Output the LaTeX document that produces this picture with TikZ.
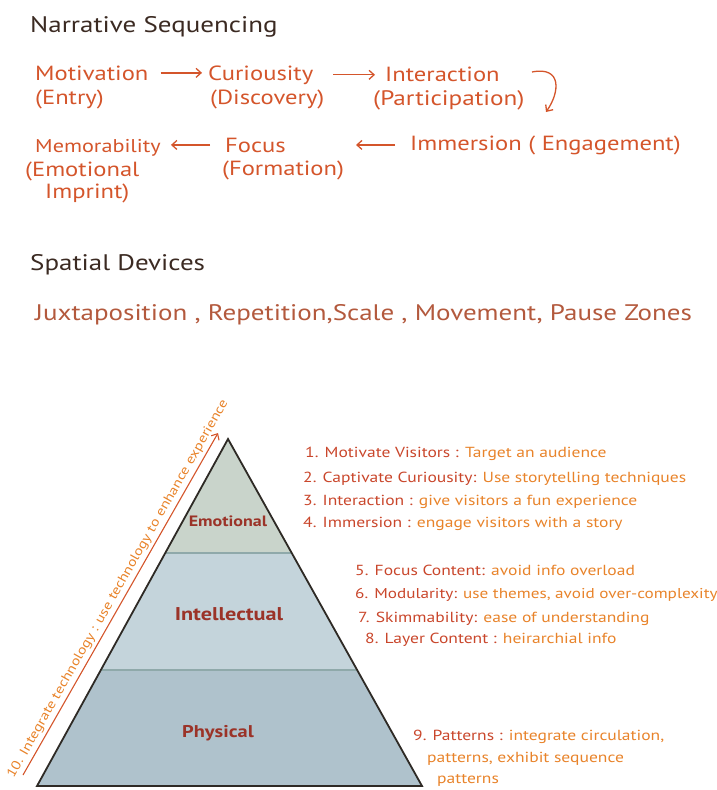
\documentclass[tikz,border=0pt]{standalone}
\usepackage{fontspec}
\setmainfont{PT Sans}[FakeStretch=1.2]
\usetikzlibrary{arrows.meta}
\definecolor{seq}{HTML}{D4552B}
\definecolor{headc}{HTML}{3B2A22}
\definecolor{devc}{HTML}{B3593D}
\definecolor{labc}{HTML}{C9462B}
\definecolor{descc}{HTML}{E8832A}
\definecolor{tierc}{HTML}{9B3328}
\definecolor{emofill}{HTML}{C9D4CB}
\definecolor{intfill}{HTML}{C4D4DB}
\definecolor{phyfill}{HTML}{AFC2CC}
\definecolor{bandline}{HTML}{8FA9AA}
\definecolor{edgec}{HTML}{2E2A25}
\tikzset{
  txt/.style={inner sep=0pt, anchor=base west},
  heading/.style={txt, text=headc, font=\fontsize{22.5}{27}\selectfont},
  seqtext/.style={txt, text=seq, font=\fontsize{20.5}{24}\selectfont},
  devtext/.style={txt, text=devc, font=\fontsize{22.5}{26}\selectfont},
  listtext/.style={txt, font=\fontsize{14.6}{17}\selectfont},
  tier/.style={inner sep=0pt, text=tierc},
  arr/.style={draw=seq, line width=1.3pt, -{Straight Barb[length=5pt,width=9pt]}},
}
\newcommand{\lab}[1]{\textcolor{labc}{#1}}
\newcommand{\dsc}[1]{\textcolor{descc}{#1}}
\begin{document}
\begin{tikzpicture}[x=1pt,y=-1pt]
\useasboundingbox (0,0) rectangle (716,790);

% ---- Narrative sequencing ----
\node[heading] (nshead) at (30,32) {Narrative Sequencing};

\node[seqtext] (mot) at (35,80) {Motivation};
\node[seqtext] (motb) at (35,104) {(Entry)};
\node[seqtext] (cur) at (208,80) {Curiousity};
\node[seqtext] (curb) at (210,104) {(Discovery)};
\node[seqtext] (int) at (385,81) {Interaction};
\node[seqtext, font=\fontsize{21}{24}\selectfont] (intb) at (373,105) {(Participation)};

\node[seqtext, font=\fontsize{18.5}{24}\selectfont] (mem) at (35,152) {Memorability};
\node[seqtext] (memb) at (25,176) {(Emotional};
\node[seqtext] (memc) at (45,198) {Imprint)};
\node[seqtext] (foc) at (225,152) {Focus};
\node[seqtext] (focb) at (222,175) {(Formation)};
\node[seqtext] (imm) at (410,150) {Immersion ( Engagement)};

% flow arrows between the stages
\draw[arr, shorten <=12pt, shorten >=6pt] (mot.east) -- (mot.east -| cur.west);
\draw[arr, shorten <=20pt, shorten >=10pt] (cur.east) -- (cur.east -| int.west);
\coordinate (turnA) at (532,72);
\coordinate (turnB) at (546,112);
\draw[arr] (turnA) .. controls (562,66) and (560,92) .. (turnB);
\draw[arr, shorten <=15pt, shorten >=70pt] (imm.west) -- (imm.west -| foc.east);
\draw[arr, shorten <=15pt, shorten >=10pt] (foc.west) -- (foc.west -| mem.east);

% ---- Spatial devices ----
\node[heading] (sdhead) at (30,270) {Spatial Devices};
\node[devtext] (devs) at (35,320) {Juxtaposition , Repetition,Scale , Movement, Pause Zones};

% ---- Pyramid ----
\coordinate (apex) at (228,439);
\coordinate (bl) at (37,786);
\coordinate (br) at (422,786);
\coordinate (l1) at (165.3,553);
\coordinate (r1) at (291.7,553);
\coordinate (l2) at (100.9,670);
\coordinate (r2) at (357.1,670);
\fill[emofill] (apex) -- (r1) -- (l1) -- cycle;
\fill[intfill] (l1) -- (r1) -- (r2) -- (l2) -- cycle;
\fill[phyfill] (l2) -- (r2) -- (br) -- (bl) -- cycle;
\draw[bandline, line width=1.2pt] (l1) -- (r1);
\draw[bandline, line width=1.2pt] (l2) -- (r2);
\draw[edgec, line width=1.8pt, line join=miter] (apex) -- (br) -- (bl) -- cycle;

\node[tier, font=\fontsize{15}{18}\selectfont\bfseries] (emo) at (228,521) {Emotional};
\node[tier, font=\fontsize{18.5}{22}\selectfont\bfseries] (intel) at (229,614) {Intellectual};
\node[tier, font=\fontsize{17}{20}\selectfont\bfseries] (phy) at (218,733) {Physical};

% ---- Technology arrow ----
\coordinate (techA) at (23,775);
\coordinate (techB) at (218,433);
\draw[arr, line width=1.1pt] (techA) -- node[sloped, above=3pt, pos=0.53, inner sep=0pt, text=descc, font=\fontsize{13}{15}\selectfont]
  {10. Integrate technology : use technology to enhance experience} (techB);

% ---- Design principles ----
\node[listtext] (p1) at (305,457) {\lab{1. Motivate Visitors :} \dsc{Target an audience}};
\node[listtext] (p2) at (303,482) {\lab{2. Captivate Curiousity:} \dsc{Use storytelling techniques}};
\node[listtext] (p3) at (303,505) {\lab{3. Interaction :} \dsc{give visitors a fun experience}};
\node[listtext] (p4) at (303,527) {\lab{4. Immersion :} \dsc{engage visitors with a story}};
\node[listtext] (p5) at (355,575) {\lab{5. Focus Content:} \dsc{avoid info overload}};
\node[listtext, font=\fontsize{14.3}{17}\selectfont] (p6) at (355,598) {\lab{6. Modularity:} \dsc{use themes, avoid over-complexity}};
\node[listtext] (p7) at (358,622) {\lab{7. Skimmability:} \dsc{ease of understanding}};
\node[listtext] (p8) at (365,643) {\lab{8. Layer Content :} \dsc{heirarchial info}};
\node[listtext] (p9) at (413,740) {\lab{9. Patterns :} \dsc{integrate circulation,}};
\node[listtext] (p9b) at (427,762) {\dsc{patterns, exhibit sequence}};
\node[listtext] (p9c) at (437,783) {\dsc{patterns}};
\end{tikzpicture}
\end{document}
